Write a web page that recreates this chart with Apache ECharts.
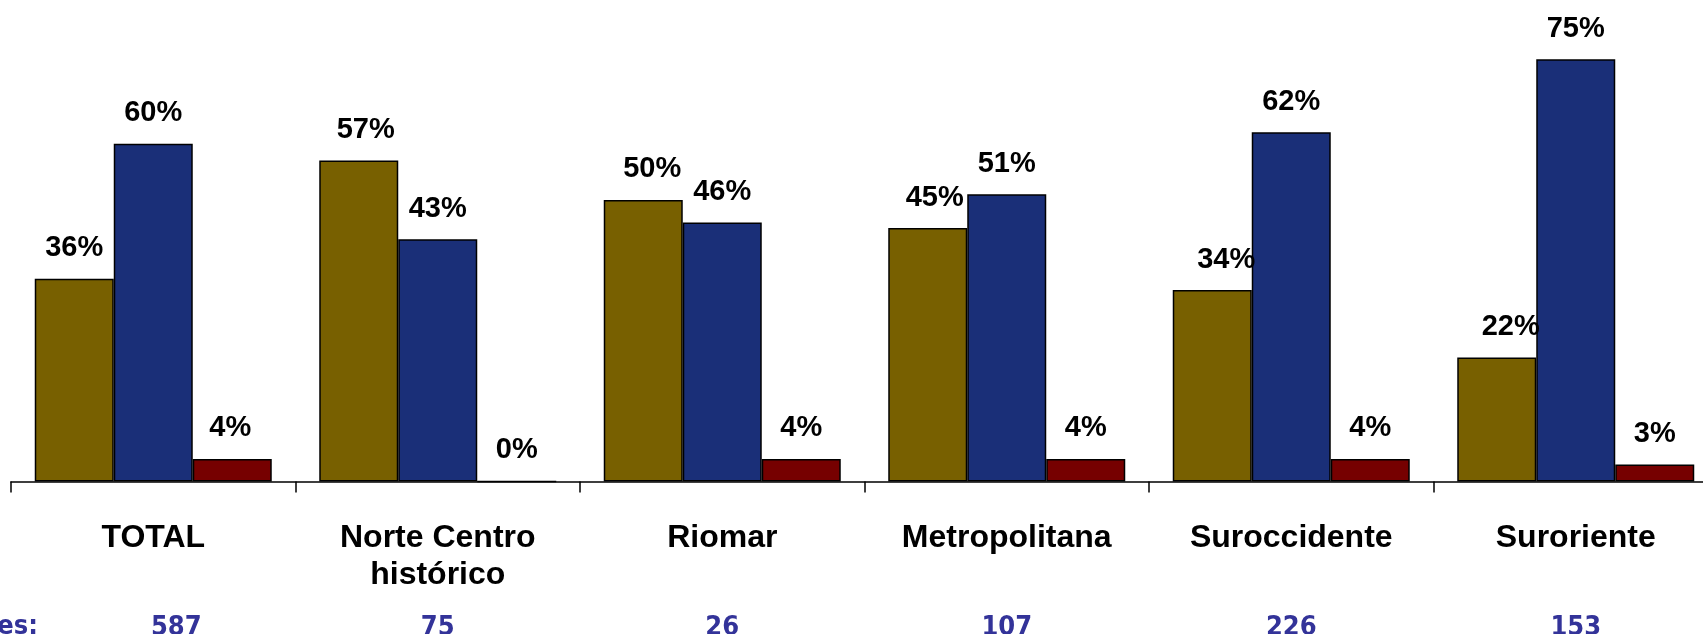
<!DOCTYPE html>
<html>
<head>
<meta charset="utf-8">
<script src="https://cdn.jsdelivr.net/npm/echarts@6/dist/echarts.min.js"></script>
<style>
html,body{margin:0;padding:0;background:#fff;}
#chart{width:1703px;height:634px;}
</style>
</head>
<body>
<div id="chart"></div>
<script>
var categories = ['TOTAL', 'Norte Centro\nhistórico', 'Riomar', 'Metropolitana', 'Suroccidente', 'Suroriente'];
var seriesA = [36, 57, 50, 45, 34, 22];
var seriesB = [60, 43, 46, 51, 62, 75];
var seriesC = [4, 0, 4, 4, 4, 3];
var bases = ['587', '75', '26', '107', '226', '153'];
var basesTitle = 'Bases:';

// label nudges (styling, not data)
var shiftA = [0, 7, 9, 7, 14, 14];
var shiftC = [-2, 0, 0, 0, 0, 0];
var baseShift = [46, 0, 0, 0, 0, 0];

var chart = echarts.init(document.getElementById('chart'));

var labelBase = {
  show: true,
  position: 'top',
  distance: 16,
  color: '#000',
  fontFamily: 'Liberation Sans, Arial, sans-serif',
  fontWeight: 'bold',
  fontSize: 29,
  formatter: function (p) { return p.value + '%'; }
};

function mk(vals, shifts) {
  return vals.map(function (v, i) {
    var item = { value: v };
    if (shifts && shifts[i]) item.label = { offset: [shifts[i], 0] };
    return item;
  });
}

function barSeries(name, vals, color, shifts) {
  return {
    name: name,
    type: 'bar',
    barWidth: 79,
    barGap: '0%',
    data: mk(vals, shifts),
    itemStyle: { color: color, borderColor: '#000', borderWidth: 1.5 },
    label: labelBase,
    emphasis: { disabled: true },
    animation: false
  };
}

chart.setOption({
  animation: false,
  backgroundColor: '#fff',
  grid: { left: 11, top: 31, width: 1707, height: 450.5, containLabel: false, outerBoundsMode: 'none' },
  xAxis: [{
    type: 'category',
    data: categories,
    boundaryGap: true,
    axisLine: { show: true, lineStyle: { color: '#000', width: 1.5 } },
    axisTick: { show: true, length: 11, lineStyle: { color: '#000', width: 1.5 }, alignWithLabel: false },
    axisLabel: {
      interval: 0,
      margin: 38.5,
      color: '#000',
      fontFamily: 'Liberation Sans, Arial, sans-serif',
      fontWeight: 'bold',
      fontSize: 32,
      lineHeight: 37
    }
  }, {
    type: 'category',
    position: 'bottom',
    data: bases.map(function (b, i) {
      var d = { value: b };
      if (baseShift[i]) d.textStyle = { padding: [0, 0, 0, baseShift[i]] };
      return d;
    }),
    axisLine: { show: false },
    axisTick: { show: false },
    axisLabel: {
      interval: 0,
      margin: 132.5,
      color: '#333399',
      fontFamily: 'DejaVu Sans Condensed, DejaVu Sans, sans-serif',
      fontWeight: 'bold',
      fontSize: 27,
      lineHeight: 27
    }
  }],
  yAxis: {
    type: 'value',
    min: 0,
    max: 80,
    show: false,
    splitLine: { show: false }
  },
  graphic: [{
    type: 'text',
    right: 1703 - 38,
    top: 613.5,
    style: {
      text: basesTitle,
      fill: '#333399',
      font: 'bold 27px "DejaVu Sans Condensed", "DejaVu Sans", sans-serif',
      textAlign: 'right'
    }
  }],
  series: [
    barSeries('A', seriesA, '#786000', shiftA),
    barSeries('B', seriesB, '#1a2f78'),
    barSeries('C', seriesC, '#760000', shiftC)
  ]
});
</script>
</body>
</html>
